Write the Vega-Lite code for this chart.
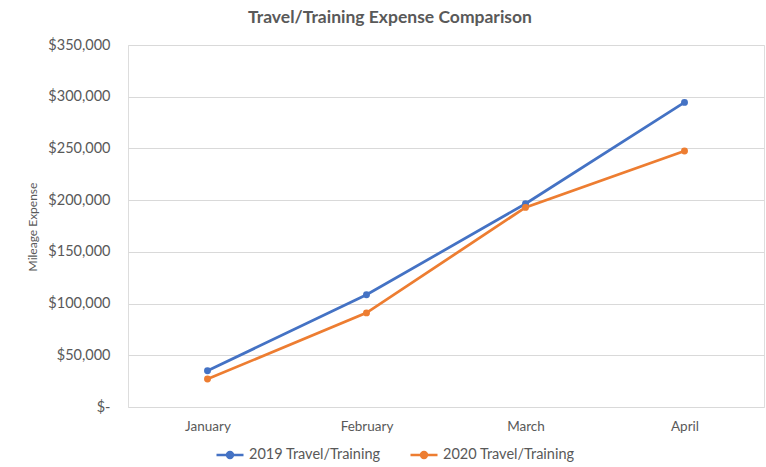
{
  "$schema": "https://vega.github.io/schema/vega-lite/v6.json",
  "width": 636,
  "height": 362,
  "autosize": {"type": "none"},
  "padding": {"left": 128, "top": 45, "right": 2, "bottom": 60},
  "background": "white",
  "title": {
    "text": "Travel/Training Expense Comparison",
    "font": "Lato",
    "fontSize": 17.5,
    "fontWeight": "bold",
    "color": "#595959",
    "anchor": "middle",
    "dx": -56,
    "offset": 11
  },
  "data": {
    "values": [
      {"month": "January", "series": "2019 Travel/Training", "value": 35000},
      {"month": "February", "series": "2019 Travel/Training", "value": 108500},
      {"month": "March", "series": "2019 Travel/Training", "value": 196500},
      {"month": "April", "series": "2019 Travel/Training", "value": 294500},
      {"month": "January", "series": "2020 Travel/Training", "value": 27000},
      {"month": "February", "series": "2020 Travel/Training", "value": 91000},
      {"month": "March", "series": "2020 Travel/Training", "value": 193000},
      {"month": "April", "series": "2020 Travel/Training", "value": 247500}
    ]
  },
  "mark": {"type": "line", "strokeWidth": 2.75, "point": {"filled": true, "size": 48}},
  "encoding": {
    "x": {
      "field": "month",
      "type": "ordinal",
      "sort": ["January", "February", "March", "April"],
      "scale": {"type": "point", "padding": 0.5},
      "axis": {
        "title": null,
        "labelAngle": 0,
        "ticks": false,
        "domain": false,
        "grid": false,
        "labelFont": "Lato",
        "labelFontSize": 13.5,
        "labelColor": "#595959",
        "labelPadding": 12
      }
    },
    "y": {
      "field": "value",
      "type": "quantitative",
      "scale": {"domain": [0, 350000], "nice": false},
      "axis": {
        "title": "Mileage Expense",
        "titleFont": "Lato",
        "titleFontSize": 12,
        "titleFontWeight": "normal",
        "titleColor": "#595959",
        "titleX": -96,
        "titleY": 181.5,
        "titleAngle": -90,
        "titleAlign": "center",
        "titleBaseline": "middle",
        "values": [0, 50000, 100000, 150000, 200000, 250000, 300000, 350000],
        "labelExpr": "datum.value == 0 ? '$-' : format(datum.value, '$,')",
        "labelFont": "Lato",
        "labelFontSize": 14.5,
        "labelColor": "#595959",
        "labelPadding": 18,
        "ticks": false,
        "domain": false,
        "grid": true,
        "gridColor": "#d9d9d9",
        "gridWidth": 1
      }
    },
    "color": {
      "field": "series",
      "type": "nominal",
      "scale": {"domain": ["2019 Travel/Training", "2020 Travel/Training"], "range": ["#4472C4", "#ED7D31"]},
      "legend": {
        "title": null,
        "orient": "none",
        "legendX": 87,
        "legendY": 395,
        "direction": "horizontal",
        "padding": 0,
        "symbolType": "M-1,0L1,0M-0.22,0A0.22,0.22,0,1,1,0.22,0A0.22,0.22,0,1,1,-0.22,0Z",
        "symbolSize": 729,
        "symbolStrokeWidth": 2.5,
        "labelFont": "Lato",
        "labelFontSize": 14.5,
        "labelColor": "#595959",
        "labelOffset": 4,
        "columnPadding": 24,
        "encode": {
          "symbols": {"update": {"fill": {"scale": "color", "field": "value"}, "stroke": {"scale": "color", "field": "value"}}}
        }
      }
    }
  }
}
